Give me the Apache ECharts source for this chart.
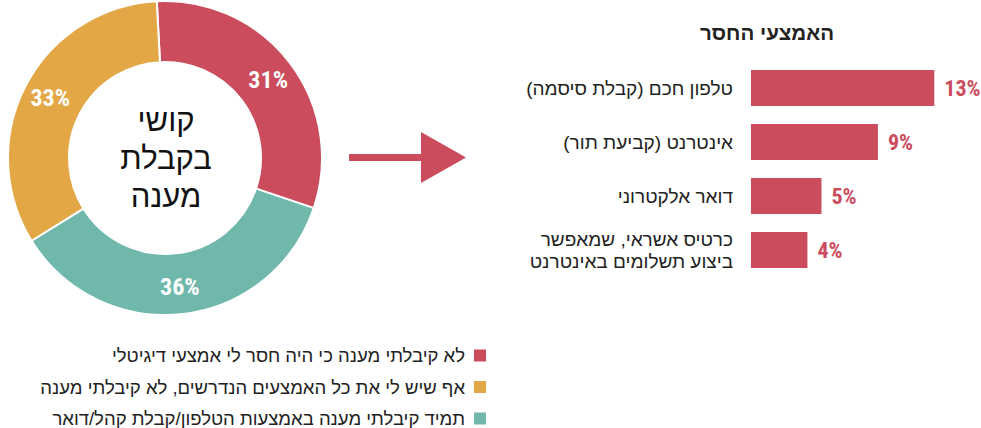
<!DOCTYPE html>
<html lang="he">
<head>
    <meta charset="UTF-8">
    <title>קושי בקבלת מענה</title>
    <script src="https://cdn.jsdelivr.net/npm/echarts@6/dist/echarts.min.js"></script>
    <style>
        html, body { margin: 0; padding: 0; background: #fff; }
    </style>
</head>
<body>
    <div id="main" style="width: 981px;height:428px;"></div>
    <script type="text/javascript">
        // donut: difficulty getting service
        var pieNames = [
            'לא קיבלתי מענה כי היה חסר לי אמצעי דיגיטלי',
            'תמיד קיבלתי מענה באמצעות הטלפון/קבלת קהל/דואר',
            'אף שיש לי את כל האמצעים הנדרשים, לא קיבלתי מענה'
        ];
        var pieValues = [31, 36, 33];
        var pieColors = ['#ca4c5d', '#70b8ab', '#e3a746'];
        var legendOrder = [pieNames[0], pieNames[2], pieNames[1]];

        // bars: the missing means
        var barCategories = [
            'טלפון חכם (קבלת סיסמה)',
            'אינטרנט (קביעת תור)',
            'דואר אלקטרוני',
            'כרטיס אשראי, שמאפשר\nביצוע תשלומים באינטרנט'
        ];
        var barValues = [13, 9, 5, 4];

        var red = '#ca4c5d';
        var numFont = '"Liberation Sans Narrow", "Roboto Condensed", "Liberation Sans", sans-serif';
        var textFont = '"Liberation Sans", "DejaVu Sans", sans-serif';

        // right-to-left mark keeps trailing brackets on the right side of the line
        function rtl(s) {
            return s.split('\n').map(function (l) { return '\u200F' + l + '\u200F'; }).join('\n');
        }

        var myChart = echarts.init(document.getElementById('main'), null, { renderer: 'svg' });

        var option = {
            animation: false,
            backgroundColor: '#ffffff',
            title: {
                text: 'האמצעי החסר',
                left: 762,
                top: 17,
                textAlign: 'center',
                textStyle: {
                    fontFamily: textFont,
                    fontSize: 20.5,
                    fontWeight: 'bold',
                    color: '#222'
                }
            },
            legend: {
                orient: 'vertical',
                right: 493,
                top: 346,
                height: 90,
                padding: 0,
                align: 'right',
                itemWidth: 14,
                itemHeight: 14,
                itemGap: 12.5,
                icon: 'rect',
                data: legendOrder,
                formatter: function (name) { return rtl(name); },
                textStyle: {
                    fontFamily: textFont,
                    fontSize: 18.5,
                    lineHeight: 16,
                    color: '#222',
                    padding: [0, 3, 0, 0]
                }
            },
            grid: {
                left: 751,
                top: 61,
                width: 225.6,
                height: 216
            },
            xAxis: {
                type: 'value',
                min: 0,
                max: 16,
                show: false
            },
            yAxis: {
                type: 'category',
                inverse: true,
                data: barCategories,
                axisLine: { show: false },
                axisTick: { show: false },
                axisLabel: {
                    margin: 18,
                    fontFamily: textFont,
                    fontSize: 19,
                    lineHeight: 22,
                    color: '#222',
                    align: 'right',
                    formatter: function (v) { return rtl(v); }
                }
            },
            series: [
                {
                    type: 'pie',
                    center: [165, 158],
                    radius: [96, 157],
                    startAngle: 93,
                    clockwise: true,
                    silent: true,
                    itemStyle: {
                        borderColor: '#ffffff',
                        borderWidth: 2
                    },
                    label: {
                        show: true,
                        position: 'inside',
                        formatter: '{c}%',
                        color: '#ffffff',
                        fontFamily: numFont,
                        fontSize: 24,
                        fontWeight: 'bold'
                    },
                    labelLine: { show: false },
                    data: pieValues.map(function (v, i) {
                        return { name: pieNames[i], value: v, itemStyle: { color: pieColors[i] } };
                    })
                },
                {
                    type: 'bar',
                    data: barValues,
                    barWidth: 36,
                    itemStyle: { color: red },
                    label: {
                        show: true,
                        position: 'right',
                        distance: 10,
                        formatter: '{c}%',
                        color: red,
                        fontFamily: numFont,
                        fontSize: 22,
                        fontWeight: 'bold'
                    }
                }
            ],
            graphic: [
                {
                    type: 'text',
                    x: 166,
                    y: 158,
                    style: {
                        text: 'קושי\nבקבלת\nמענה',
                        fontFamily: textFont,
                        fontSize: 31,
                        lineHeight: 38,
                        fill: '#111',
                        align: 'center',
                        verticalAlign: 'middle'
                    }
                },
                {
                    type: 'rect',
                    shape: { x: 349, y: 154, width: 74, height: 7 },
                    style: { fill: red }
                },
                {
                    type: 'polygon',
                    shape: { points: [[421, 132], [466, 157.5], [421, 183]] },
                    style: { fill: red }
                }
            ]
        };

        myChart.setOption(option);
    </script>
</body>
</html>
